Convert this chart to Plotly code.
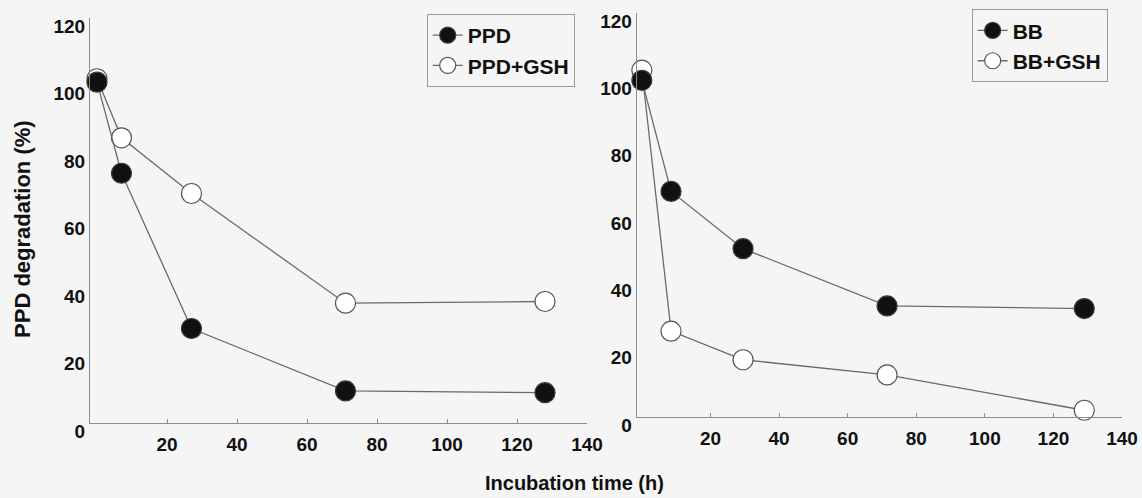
import plotly.graph_objects as go

# Left panel (PPD)
ppd_time = [0, 7, 27, 71, 128]
ppd = [101, 74, 28, 9.5, 9]
ppd_gsh = [102, 84.5, 68, 35.5, 36]

# Right panel (BB)
bb_time = [0, 8.5, 29.5, 71.5, 129]
bb = [100, 67, 50, 33, 32.2]
bb_gsh = [103, 25.5, 17, 12.5, 2]

x_ticks = [20, 40, 60, 80, 100, 120, 140]
y_ticks = [0, 20, 40, 60, 80, 100, 120]

FONT = "Arial, Liberation Sans, sans-serif"
TXT = "#111111"
LINE = "#6a6a6a"
AX = "#8c8c8c"
BG = "#f5f5f5"

fig = go.Figure()

def add(xs, ys, name, filled, xa, ya, legend):
    fig.add_trace(go.Scatter(
        x=xs, y=ys, name=name, mode="lines+markers",
        xaxis=xa, yaxis=ya, legend=legend,
        line=dict(color=LINE, width=1.3),
        marker=dict(size=20, color="#111111" if filled else "#ffffff",
                    line=dict(color="#3a3a3a" if filled else "#555555", width=1.2)),
        cliponaxis=False,
    ))

add(ppd_time, ppd_gsh, "PPD+GSH", False, "x", "y", "legend")
add(ppd_time, ppd, "PPD", True, "x", "y", "legend")
add(bb_time, bb_gsh, "BB+GSH", False, "x2", "y2", "legend2")
add(bb_time, bb, "BB", True, "x2", "y2", "legend2")

xcommon = dict(
    tickvals=x_ticks, ticktext=[str(v) for v in x_ticks],
    showline=True, linecolor=AX, linewidth=1, showgrid=False, zeroline=False,
    ticks="inside", ticklen=4, tickcolor=AX, tickwidth=1,
    tickfont=dict(family=FONT, size=19, color=TXT, weight="bold"),
    ticklabelstandoff=4, automargin=False, ticklabeloverflow="allow",
)
ycommon = dict(
    tickvals=y_ticks, ticktext=[str(v) for v in y_ticks], range=[0, 120],
    showline=True, linecolor=AX, linewidth=1, showgrid=False, zeroline=False,
    ticks="", tickfont=dict(family=FONT, size=19, color=TXT, weight="bold"),
    ticklabelshift=8, automargin=False, ticklabeloverflow="allow",
)

fig.update_layout(
    template="none",
    width=1142, height=498,
    margin=dict(l=90, r=5, t=5, b=75),
    paper_bgcolor=BG, plot_bgcolor=BG,
    showlegend=True,
    xaxis=dict(domain=[0, 0.4747], range=[-2, 140], anchor="y", **xcommon),
    yaxis=dict(domain=[0, 0.9689], anchor="x", **ycommon),
    xaxis2=dict(domain=[0.5222, 0.9857], range=[-1.5, 140], anchor="y2", **xcommon),
    yaxis2=dict(domain=[0.0144, 0.9809], anchor="x2", **ycommon),
    legend=dict(x=0.3216, y=0.9785, xanchor="left", yanchor="top",
                bgcolor="rgba(0,0,0,0)", bordercolor="#9a9a9a", borderwidth=1,
                font=dict(family=FONT, size=21, color=TXT, weight="bold"),
                traceorder="reversed", itemsizing="trace"),
    legend2=dict(x=0.8421, y=0.9897, xanchor="left", yanchor="top",
                 bgcolor="rgba(0,0,0,0)", bordercolor="#9a9a9a", borderwidth=1,
                 font=dict(family=FONT, size=21, color=TXT, weight="bold"),
                 traceorder="reversed", itemsizing="trace"),
    annotations=[
        dict(text="PPD degradation (%)", xref="paper", yref="paper",
             x=-0.065, y=(423 - 229) / 418, xanchor="center", yanchor="middle",
             textangle=-90, showarrow=False,
             font=dict(family=FONT, size=22, color=TXT, weight="bold")),
        dict(text="Incubation time (h)", xref="paper", yref="paper",
             x=(574 - 90) / 1047, y=(423 - 483) / 418, xanchor="center", yanchor="middle",
             showarrow=False,
             font=dict(family=FONT, size=20, color=TXT, weight="bold")),
    ],
)

fig.write_html("out.html")
